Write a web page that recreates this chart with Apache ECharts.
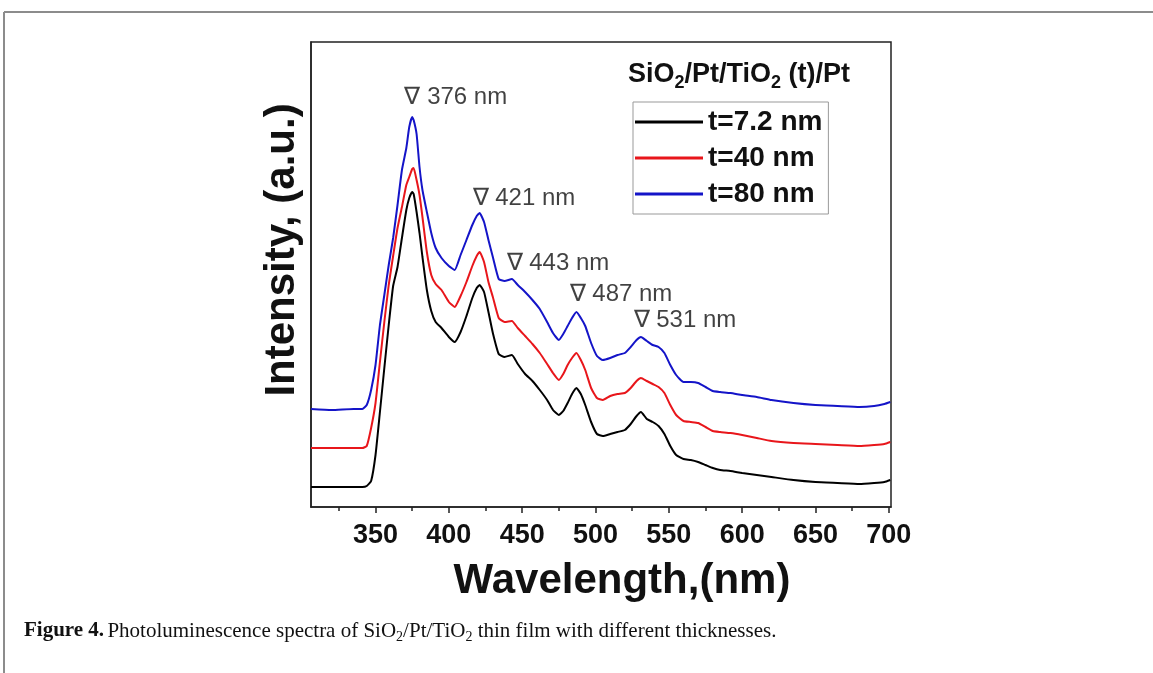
<!DOCTYPE html>
<html>
<head>
<meta charset="utf-8">
<script src="https://cdn.jsdelivr.net/npm/echarts@6/dist/echarts.min.js"></script>
<style>
  html, body { margin: 0; padding: 0; background: #fff; }
  #chart { width: 1153px; height: 673px; }
</style>
</head>
<body>
<div id="chart"></div>
<script>
// ---- data ----
const wavelengths = [306, 320, 335, 341, 344, 347, 350, 353, 356, 359, 362, 365, 368, 371, 373, 375, 376, 378, 380, 382, 385, 388, 391, 395, 400, 404, 408, 412, 416, 419, 421, 424, 427, 430, 434, 438, 443, 447, 452, 457, 462, 467, 471, 475, 478, 481, 484, 487, 490, 493, 497, 501, 505, 510, 515, 520, 524, 528, 531, 535, 539, 543, 547, 551, 555, 560, 565, 570, 575, 580, 585, 592, 600, 610, 620, 635, 650, 665, 680, 690, 697, 701];
const t72 = [20, 20, 20, 20, 21, 26, 52, 95, 139, 182, 221, 240, 269, 297, 309, 315, 313, 295, 274, 250, 217, 196, 185, 179, 170, 165, 175, 191, 209, 219, 222, 215, 195, 174, 153, 150, 152, 143, 133, 126, 117, 107, 97, 92, 96, 104, 113, 119, 113, 102, 85, 73, 71, 73, 75, 77, 83, 91, 95, 88, 85, 81, 73, 61, 52, 48, 47, 45, 42, 39, 37, 36, 34, 32, 30, 27, 25, 24, 23, 24, 25, 27];
const t40 = [59, 59, 59, 59, 61, 79, 104, 145, 185, 222, 251, 279, 300, 322, 330, 338, 339, 327, 312, 290, 255, 232, 223, 217, 205, 200, 211, 225, 241, 251, 255, 245, 225, 210, 189, 185, 186, 179, 171, 163, 154, 143, 134, 127, 133, 142, 149, 154, 147, 137, 119, 109, 107, 111, 113, 114, 119, 126, 129, 126, 123, 120, 114, 102, 92, 86, 85, 84, 80, 76, 75, 74, 72, 69, 66, 64, 63, 62, 61, 62, 63, 65];
const t80 = [98, 97, 98, 98, 102, 117, 142, 182, 212, 242, 269, 302, 337, 359, 380, 390, 387, 373, 340, 317, 295, 274, 259, 249, 241, 237, 252, 267, 282, 291, 294, 285, 267, 250, 228, 226, 228, 222, 215, 207, 198, 185, 174, 167, 173, 181, 189, 195, 189, 181, 164, 151, 147, 149, 152, 154, 160, 167, 170, 166, 162, 160, 154, 142, 132, 125, 125, 124, 120, 116, 115, 114, 112, 110, 107, 104, 102, 101, 100, 101, 103, 105];
const seriesNames = ['t=7.2 nm', 't=40 nm', 't=80 nm'];
const xTickLabels = [350, 400, 450, 500, 550, 600, 650, 700];
const xMinorTicks = [325, 375, 425, 475, 525, 575, 625, 675];
const peakTexts = ['376 nm', '421 nm', '443 nm', '487 nm', '531 nm'];
const peakX = [375.2, 421.6, 444.8, 487.8, 531.4];
const peakY = [410, 309, 244, 213, 187];

// ---- chart ----
const FONT = '"Liberation Sans", Arial, sans-serif';
const SERIF = '"Liberation Serif", "Times New Roman", serif';
const colors = ['#000000', '#e8161b', '#1414c8'];
const curves = [t72, t40, t80];

const chart = echarts.init(document.getElementById('chart'), null, { renderer: 'canvas' });

const lineSeries = curves.map((vals, i) => ({
  name: seriesNames[i],
  type: 'line',
  xAxisIndex: 0,
  data: wavelengths.map((w, k) => [w, vals[k]]),
  showSymbol: false,
  smooth: 0.15,
  lineStyle: { width: 2, color: colors[i] },
  itemStyle: { color: colors[i] },
  emphasis: { disabled: true },
  z: 3 + i
}));

const labelSeries = {
  type: 'scatter',
  xAxisIndex: 0,
  symbolSize: 0,
  silent: true,
  data: peakX.map((x, i) => ({ value: [x, peakY[i]], name: peakTexts[i] })),
  label: {
    show: true,
    position: [-8, 0],
    align: 'left',
    verticalAlign: 'middle',
    formatter: p => '\u2207 ' + p.name,
    fontFamily: FONT,
    fontSize: 24,
    color: '#111'
  },
  z: 10
};

const option = {
  animation: false,
  backgroundColor: '#ffffff',
  grid: {
    left: 311, top: 42, right: 262, bottom: 166,
    show: true, borderColor: '#222', borderWidth: 1.5, backgroundColor: 'transparent'
  },
  legend: {
    orient: 'vertical',
    left: 633, top: 102,
    data: seriesNames,
    icon: 'rect',
    itemWidth: 68, itemHeight: 3,
    itemGap: 8,
    padding: [6, 6, 6, 2],
    borderColor: '#999', borderWidth: 1,
    selectedMode: false,
    textStyle: { fontFamily: FONT, fontSize: 28, fontWeight: 'bold', color: '#111' }
  },
  xAxis: [
    {
      type: 'value', min: 306, max: 701.5, position: 'bottom',
      axisLine: { show: true, lineStyle: { color: '#222', width: 1.5 } },
      axisTick: { show: true, customValues: xTickLabels, length: 6, inside: false, lineStyle: { color: '#222', width: 1.5 } },
      axisLabel: { show: true, customValues: xTickLabels, margin: 15, fontFamily: FONT, fontSize: 27, fontWeight: 'bold', color: '#111' },
      splitLine: { show: false }
    },
    {
      type: 'value', min: 306, max: 701.5, position: 'bottom',
      axisLine: { show: false },
      axisTick: { show: true, customValues: xMinorTicks, length: 4, inside: false, lineStyle: { color: '#222', width: 1.5 } },
      axisLabel: { show: false },
      splitLine: { show: false }
    }
  ],
  yAxis: {
    type: 'value', min: 0, max: 465,
    axisLine: { show: true, lineStyle: { color: '#222', width: 1.5 } },
    axisTick: { show: false },
    axisLabel: { show: false },
    splitLine: { show: false }
  },
  series: [...lineSeries, labelSeries],
  graphic: [
    { type: 'line', shape: { x1: 4, y1: 12, x2: 1153, y2: 12 }, style: { stroke: '#8c8c8c', lineWidth: 2 }, silent: true },
    { type: 'line', shape: { x1: 4, y1: 12, x2: 4, y2: 673 }, style: { stroke: '#8c8c8c', lineWidth: 2 }, silent: true },
    {
      type: 'text', x: 282, y: 250, rotation: Math.PI / 2, silent: true,
      style: { text: 'Intensity, (a.u.)', fontFamily: FONT, fontSize: 42, fontWeight: 'bold', fill: '#111', align: 'center', verticalAlign: 'middle' }
    },
    {
      type: 'text', x: 622, y: 581, silent: true,
      style: { text: 'Wavelength,(nm)', fontFamily: FONT, fontSize: 42, fontWeight: 'bold', fill: '#111', align: 'center', verticalAlign: 'middle' }
    },
    {
      type: 'text', x: 628, y: 75, silent: true,
      style: {
        text: '{m|SiO}{s|2}{m|/Pt/TiO}{s|2}{m| (t)/Pt}',
        align: 'left', verticalAlign: 'middle',
        rich: {
          m: { fontFamily: FONT, fontSize: 27, fontWeight: 'bold', fill: '#111', lineHeight: 34, verticalAlign: 'middle' },
          s: { fontFamily: FONT, fontSize: 18, fontWeight: 'bold', fill: '#111', lineHeight: 18, verticalAlign: 'bottom' }
        }
      }
    },
    {
      type: 'text', x: 24, y: 631, silent: true,
      style: {
        text: '{b|Figure 4.} {m|Photoluminescence spectra of SiO}{s|2}{m|/Pt/TiO}{s|2}{m| thin film with different thicknesses.}',
        align: 'left', verticalAlign: 'middle',
        rich: {
          b: { fontFamily: SERIF, fontSize: 21, fontWeight: 'bold', fill: '#111', lineHeight: 26, verticalAlign: 'middle' },
          m: { fontFamily: SERIF, fontSize: 21, fill: '#111', lineHeight: 26, verticalAlign: 'middle' },
          s: { fontFamily: SERIF, fontSize: 14, fill: '#111', lineHeight: 14, verticalAlign: 'bottom' }
        }
      }
    }
  ]
};

chart.setOption(option);
</script>
</body>
</html>
